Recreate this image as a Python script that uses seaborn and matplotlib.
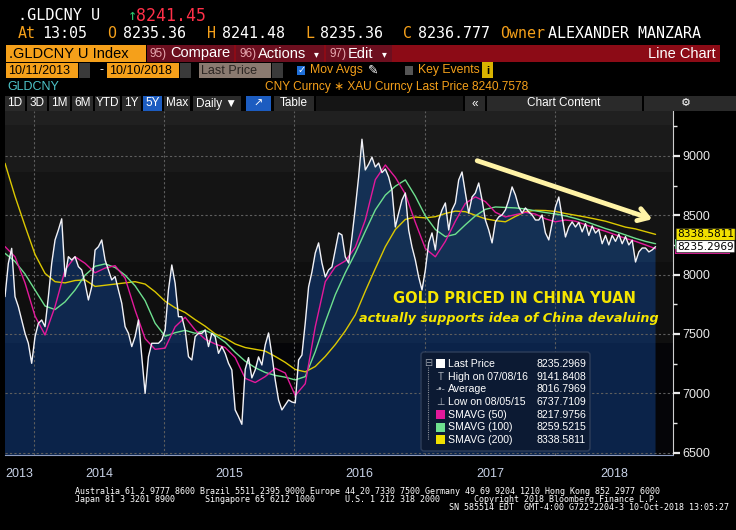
import numpy as np
import pandas as pd
import matplotlib
matplotlib.use("Agg")
import matplotlib.pyplot as plt
import matplotlib.dates as mdates
from matplotlib.patches import Rectangle, FancyBboxPatch
from matplotlib.ticker import MultipleLocator, FuncFormatter, NullFormatter
import seaborn as sns

# ---- data ----
start_date = "2013-10-11"
end_date = "2018-10-10"
axis_end = "2018-11-28"

price = [7814, 8095, 8221, 7814, 7730, 7617, 7505, 7421, 7252, 7477,
         7589, 7617, 7561, 7814, 8095, 8292, 8376, 8470, 7983, 8151,
         8123, 8151, 8067, 8039, 7926, 7786, 7898, 8207, 8235, 8292,
         8123, 8039, 7955, 7983, 7870, 7758, 7561, 7505, 7393, 7477,
         7617, 7308, 6999, 7308, 7421, 7421, 7421, 7449, 7533, 7870,
         8081, 7926, 7645, 7645, 7533, 7308, 7280, 7477, 7505, 7505,
         7533, 7393, 7505, 7477, 7336, 7393, 7336, 7252, 7196, 6859,
         6802, 6738, 7200, 7300, 7129, 7196, 7306, 7238, 7407, 7508,
         7322, 7112, 6943, 6859, 6901, 6943, 6926, 6918, 7280, 7322,
         7592, 7896, 8022, 8182, 8267, 8098, 7980, 8039, 8064, 8208,
         8351, 8334, 8149, 8098, 8317, 8562, 8823, 9141, 8882, 8930,
         8990, 8907, 8940, 8860, 8890, 8823, 8713, 8401, 8519, 8629,
         8688, 8376, 8233, 8123, 7980, 7870, 8039, 8267, 8351, 8208,
         8460, 8545, 8604, 8376, 8545, 8604, 8798, 8865, 8688, 8519,
         8654, 8688, 8772, 8629, 8460, 8376, 8267, 8444, 8486, 8503,
         8545, 8629, 8739, 8671, 8570, 8519, 8562, 8528, 8503, 8460,
         8460, 8503, 8351, 8292, 8435, 8570, 8654, 8486, 8317, 8401,
         8444, 8401, 8440, 8360, 8430, 8330, 8410, 8350, 8380, 8260,
         8330, 8250, 8330, 8280, 8340, 8260, 8320, 8250, 8290, 8106,
         8191, 8224, 8224, 8191, 8208, 8235]

sma50 = [8236, 8150, 7930, 7650, 7491, 7730, 8039, 8150, 8095, 8015,
         8055, 8075, 7970, 7700, 7460, 7370, 7380, 7560, 7640, 7533,
         7455, 7415, 7385, 7300, 7125, 7090, 7140, 7210, 7170, 6980,
         7080, 7560, 7940, 8065, 8115, 8230, 8460, 8800, 8924, 8820,
         8680, 8440, 8220, 8150, 8280, 8450, 8600, 8655, 8615, 8525,
         8486, 8505, 8525, 8510, 8470, 8445, 8460, 8450, 8420, 8390,
         8365, 8335, 8305, 8280, 8250, 8218]

sma100 = [8179, 8110, 8005, 7870, 7735, 7705, 7770, 7870, 7995, 8070,
          8090, 8060, 7995, 7905, 7780, 7590, 7480, 7510, 7530, 7505,
          7530, 7490, 7430, 7345, 7270, 7215, 7175, 7150, 7135, 7112,
          7140, 7350, 7600, 7830, 8015, 8180, 8365, 8545, 8670, 8745,
          8798, 8660, 8495, 8380, 8320, 8340, 8420, 8495, 8550, 8570,
          8566, 8562, 8553, 8537, 8523, 8511, 8495, 8473, 8448, 8418,
          8388, 8363, 8334, 8305, 8280, 8260]

sma200 = [8938, 8660, 8410, 8170, 8010, 7940, 7930, 7950, 7955, 7900,
          7910, 7920, 7930, 7940, 7920, 7855, 7775, 7720, 7680, 7620,
          7565, 7500, 7465, 7415, 7385, 7370, 7355, 7310, 7260, 7200,
          7180, 7225, 7310, 7410, 7525, 7660, 7860, 8050, 8235, 8380,
          8465, 8485, 8478, 8488, 8515, 8535, 8530, 8500, 8470, 8455,
          8445, 8490, 8530, 8542, 8540, 8532, 8515, 8500, 8485, 8468,
          8450, 8425, 8400, 8385, 8362, 8339]

legend_labels = ["Last Price", "High on 07/08/16", "Average", "Low on 08/05/15",
                 "SMAVG (50)", "SMAVG (100)", "SMAVG (200)"]
legend_values = [8235.2969, 9141.8408, 8016.7969, 6737.7109,
                 8217.9756, 8259.5215, 8338.5811]

y_low, y_high = 6479, 9379

c_price = "#f2f2f7"
c50 = "#e3199b"
c100 = "#6ee08f"
c200 = "#dcc800"
orange = "#f5a01a"

price_dates = pd.date_range(start_date, end_date, periods=len(price))
sma_dates = pd.date_range(start_date, end_date, periods=len(sma50))

sns.set_style("dark")
plt.rcParams["font.family"] = ["Liberation Sans", "DejaVu Sans"]

W, H = 736, 530
fig = plt.figure(figsize=(W / 100, H / 100), dpi=100, facecolor="black")

# ---- main price chart ----
ax = fig.add_axes([5 / W, 1 - 455 / H, 668 / W, 344 / H], zorder=1)
ax.set_facecolor("black")

# banded dark background
bands = [0.0, 0.326, 0.561, 0.823, 0.959, 1.0]
bg_cols = ["#050508", "#0f0f0f", "#141414", "#1a1a1a", "#202020"]
fill_cols = ["#0b2349", "#0f284e", "#143054", "#1a3859", "#22405f"]
for i in range(5):
    ax.add_patch(Rectangle((0, bands[i]), 1, bands[i + 1] - bands[i],
                           transform=ax.transAxes, facecolor=bg_cols[i],
                           edgecolor="none", zorder=0))

# navy mountain fill clipped under the price
poly = ax.fill_between(price_dates, price, y_low, facecolor="none",
                       edgecolor="none", zorder=1)
rows = 344
img = np.zeros((rows, 1, 3))
for r in range(rows):
    frac = 1 - (r + 0.5) / rows
    idx = np.searchsorted(bands, frac) - 1
    idx = min(max(idx, 0), 4)
    img[r, 0, :] = matplotlib.colors.to_rgb(fill_cols[idx])
im = ax.imshow(img, extent=[0, 1, 0, 1], transform=ax.transAxes,
               aspect="auto", zorder=1, interpolation="nearest")
im.set_clip_path(poly.get_paths()[0], poly.get_transform())

sns.lineplot(x=sma_dates, y=sma200, ax=ax, color=c200, linewidth=1.0, zorder=3)
sns.lineplot(x=sma_dates, y=sma100, ax=ax, color=c100, linewidth=1.0, zorder=3)
sns.lineplot(x=sma_dates, y=sma50, ax=ax, color=c50, linewidth=1.0, zorder=3)
sns.lineplot(x=price_dates, y=price, ax=ax, color=c_price, linewidth=1.0, zorder=4)

ax.set_xlim(pd.Timestamp(start_date), pd.Timestamp(axis_end))
ax.set_ylim(y_low, y_high)
ax.set_xlabel("")
ax.set_ylabel("")

ax.set_axisbelow(False)
ax.grid(True, which="major", color="#5e5e5e", linestyle=(0, (2, 2)), linewidth=0.8)

ax.yaxis.tick_right()
ax.yaxis.set_major_locator(MultipleLocator(500))
ax.yaxis.set_minor_locator(MultipleLocator(250))
ax.yaxis.set_major_formatter(FuncFormatter(lambda v, p: f"{v:.0f}"))
ax.tick_params(axis="y", which="major", colors="#e8e8e8", length=5, width=1.6,
               labelsize=9, pad=2, direction="out")
ax.tick_params(axis="y", which="minor", colors="#e8e8e8", length=3, width=1)

ax.xaxis.set_major_locator(mdates.YearLocator())
ax.xaxis.set_minor_locator(mdates.MonthLocator(bymonth=[4, 7, 10]))
ax.xaxis.set_major_formatter(NullFormatter())
ax.tick_params(axis="x", which="major", colors="#707070", length=26, width=1.2)
ax.tick_params(axis="x", which="minor", colors="#cfd6e6", length=3, width=0.8)

for s in ["left", "top"]:
    ax.spines[s].set_visible(False)
ax.spines["right"].set_color("#cfcfcf")
ax.spines["bottom"].set_color("#8c9cc0")
ax.spines["bottom"].set_linestyle((0, (1, 1)))

# year labels centred in each visible year
xmin, xmax = pd.Timestamp(start_date), pd.Timestamp(axis_end)
for yr in range(2013, 2019):
    a = max(pd.Timestamp(f"{yr}-01-01"), xmin)
    b = min(pd.Timestamp(f"{yr + 1}-01-01"), xmax)
    mid = a + (b - a) / 2
    ax.text(mid, -0.055, str(yr), transform=ax.get_xaxis_transform(),
            ha="center", va="center", color="#c8d2e6", fontsize=9)

# trend arrow and annotation
ax.annotate("", xy=(0.973, 0.683), xytext=(0.703, 0.858), xycoords="axes fraction",
            arrowprops=dict(arrowstyle="->,head_length=0.7,head_width=0.45",
                            color="#fff3a6", lw=3.5), zorder=6)
ax.text(0.762, 0.456, "GOLD PRICED IN CHINA YUAN", transform=ax.transAxes,
        ha="center", va="center", color="#f5e600", fontsize=10.5,
        fontweight="bold", family="DejaVu Sans", zorder=6)
ax.text(0.7545, 0.398, "actually supports idea of China devaluing",
        transform=ax.transAxes, ha="center", va="center", color="#f5e600",
        fontsize=9.2, fontweight="bold", style="italic", family="DejaVu Sans",
        zorder=6)

# value tags on the right axis: 50 and 100 day tags sit mostly hidden
ytrans = ax.get_yaxis_transform()
for val, bgc in [(legend_values[4], c50), (legend_values[5], c100)]:
    ax.add_patch(Rectangle((1.003, val - 42), 0.083, 84, transform=ytrans,
                           facecolor=bgc, edgecolor="none", clip_on=False, zorder=5))
for val, bgc in [(legend_values[6], "#f0e000"), (legend_values[0], "white")]:
    ax.annotate(f"{val:.4f}", xy=(1, val), xycoords=("axes fraction", "data"),
                xytext=(3, 0), textcoords="offset points", ha="left", va="center",
                fontsize=7.6, color="black", annotation_clip=False, zorder=6,
                family="DejaVu Sans",
                bbox=dict(boxstyle="round,pad=0.1", fc=bgc, ec="#222222", lw=0.6))

# ---- overlay in pixel coordinates for the terminal chrome ----
ov = fig.add_axes([0, 0, 1, 1], zorder=5)
ov.set_xlim(0, W)
ov.set_ylim(H, 0)
ov.axis("off")
ov.patch.set_alpha(0)

mono = "DejaVu Sans Mono"


def box(x, y, w, h, c):
    ov.add_patch(Rectangle((x, y), w, h, facecolor=c, edgecolor="none"))


def txt(x, y, s, c="white", size=9, ha="left", family=None, **kw):
    if family is None:
        family = ["Liberation Sans", "DejaVu Sans"]
    ov.text(x, y, s, color=c, fontsize=size, ha=ha, va="center", family=family, **kw)


# row 1
txt(18, 16, ".GLDCNY U", size=11, family=mono)
txt(128, 16, "↑", c="#27c46a", size=11, family=mono)
txt(136, 16, "8241.45", c="#ff3048", size=12, family=mono)
# row 2
for x, s, c in [(18, "At", orange), (42, "13:05", "white"), (107, "O", orange),
                (123, "8235.36", "white"), (207, "H", orange), (222, "8241.48", "white"),
                (305, "L", orange), (320, "8235.36", "white"), (403, "C", orange),
                (418, "8236.777", "white"), (500, "Owner", orange),
                (548, "ALEXANDER MANZARA", "white")]:
    txt(x, 34, s, c=c, size=10.8, family=mono)

# row 3
box(6, 45, 140, 17, orange)
txt(9, 53.5, ".GLDCNY U Index", c="black", size=10.5)
box(147, 45, 573, 17, "#8c0b16")
for x, w in [(147, 87), (236, 88), (326, 66)]:
    box(x, 45, w, 17, "#6d0f1f")
txt(150, 53.5, "95)", c="#e7a9b0", size=8.5)
txt(170, 53.5, "Compare", size=10.5)
txt(239, 53.5, "96)", c="#e7a9b0", size=8.5)
txt(258, 53.5, "Actions", size=10.5)
txt(314, 54, "▾", size=7)
txt(329, 53.5, "97)", c="#e7a9b0", size=8.5)
txt(348, 53.5, "Edit", size=10.5)
txt(382, 54, "▾", size=7)
txt(716, 53.5, "Line Chart", size=10.5, ha="right")

# row 4
box(6, 63, 72, 15, orange)
txt(8, 70.5, "10/11/2013", c="black", size=9)
box(79, 63, 11, 15, "#3a3a3a")
txt(99, 70.5, "-", size=9)
box(107, 63, 72, 15, orange)
txt(109, 70.5, "10/10/2018", c="black", size=9)
box(180, 63, 11, 15, "#3a3a3a")
box(199, 63, 72, 15, "#8a7a70")
txt(201, 70.5, "Last Price", c="#2b2522", size=9)
box(272, 63, 11, 15, "#3a3a3a")
box(297, 66, 8, 9, "#1e6fd9")
txt(297.5, 70.5, "✓", size=7)
txt(310, 70.5, "Mov Avgs", c=orange, size=8.8)
txt(368, 70.5, "✎", size=9)
box(405, 66, 8, 9, "#555555")
txt(418, 70.5, "Key Events", c=orange, size=8.8)
box(482, 62, 11, 16, "#d9b300")
txt(487.5, 70.5, "i", c="black", size=8, ha="center", fontweight="bold")

# row 5
txt(7, 87, "GLDCNY", c="#4dc4c9", size=9)
txt(265, 87, "CNY Curncy ∗ XAU Curncy Last Price 8240.7578", c=orange, size=8.6)

# row 6 toolbar
for x, w, s in [(5, 20, "1D"), (27, 20, "3D"), (49, 21, "1M"), (72, 21, "6M"),
                (95, 25, "YTD"), (122, 19, "1Y"), (143, 19, "5Y"), (164, 26, "Max"),
                (193, 48, "Daily ▼")]:
    box(x, 96, w, 15, "#1c5cc0" if s == "5Y" else "#2a2a2a")
    txt(x + w / 2, 103.5, s, size=8.5, ha="center")
box(246, 96, 25, 15, "#1c5cc0")
txt(258.5, 103.5, "↗", size=8, ha="center")
box(274, 96, 40, 15, "#2a2a2a")
txt(294, 103.5, "Table", size=8.5, ha="center")
box(316, 96, 147, 15, "#151515")
box(465, 96, 20, 15, "#2a2a2a")
txt(475, 103.5, "«", size=8.5, ha="center")
box(487, 96, 155, 15, "#2a2a2a")
txt(564, 103.5, "Chart Content", size=8.5, ha="center")
box(644, 96, 92, 15, "#2a2a2a")
txt(686, 103.5, "⚙", size=8, ha="center")

# legend panel
ov.add_patch(FancyBboxPatch((421, 352), 169, 99, boxstyle="round,pad=0,rounding_size=3",
                            facecolor="#0c1a33", edgecolor="#2e3e5a", lw=1))
ov.plot([428, 428], [367, 440], color="#8a8f99", lw=0.8, linestyle=(0, (1, 1)))
txt(428, 363, "⊟", c="#9aa0aa", size=7, ha="center")
icon_cols = ["white", None, None, None, c50, c100, "#f0e000"]
glyphs = [None, "T", "-•-", "⊥", None, None, None]
for i, (lab, val) in enumerate(zip(legend_labels, legend_values)):
    yy = 364 + i * 12.7
    if icon_cols[i] is not None:
        box(436, yy - 5, 9, 9, icon_cols[i])
    else:
        txt(440.5, yy, glyphs[i], c="#aab0bb", size=7, ha="center")
    txt(448, yy, lab, size=7.6)
    txt(586, yy, f"{val:.4f}", size=7.6, ha="right")

# footer
txt(75, 491, "Australia 61 2 9777 8600 Brazil 5511 2395 9000 Europe 44 20 7330 7500 "
    "Germany 49 69 9204 1210 Hong Kong 852 2977 6000", size=6, family=mono)
txt(75, 499, "Japan 81 3 3201 8900", size=6, family=mono)
txt(205, 499, "Singapore 65 6212 1000", size=6, family=mono)
txt(345, 499, "U.S. 1 212 318 2000", size=6, family=mono)
txt(474, 499, "Copyright 2018 Bloomberg Finance L.P.", size=6, family=mono)
txt(449, 507.5, "SN 585514 EDT  GMT-4:00 G722-2204-3 10-Oct-2018 13:05:27",
    size=6, family=mono)

fig.savefig("out.png", dpi=100, facecolor="black")
